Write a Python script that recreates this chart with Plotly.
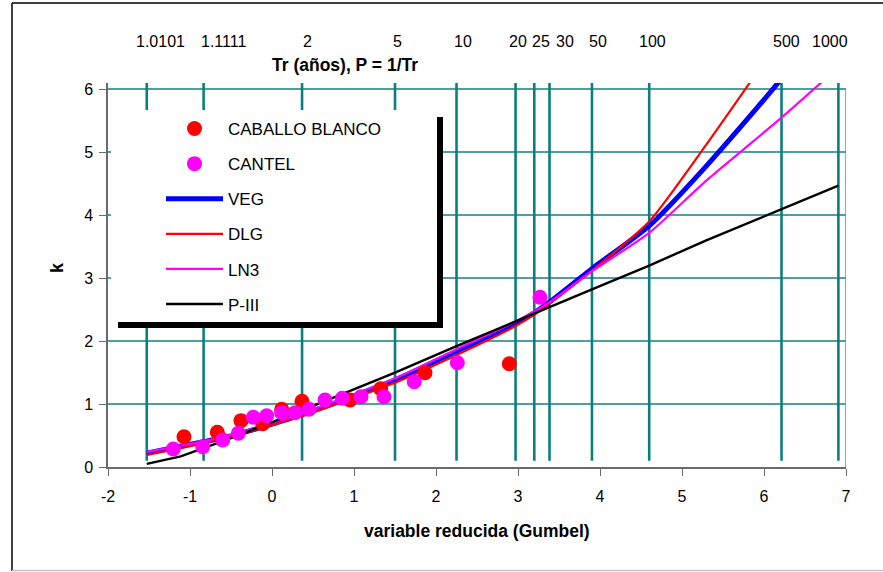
import math
import plotly.graph_objects as go

# ---------------- data ----------------
tr_grid = [1.0101, 1.1111, 2, 5, 10, 20, 25, 30, 50, 100, 500, 1000]
tr_labels = ["1.0101", "1.1111", "2", "5", "10", "20", "25", "30", "50", "100", "500", "1000"]

x_ticks = [-2, -1, 0, 1, 2, 3, 4, 5, 6, 7]
x_tick_text = ["-2", "-1", "0", "1", "2", "3", "4", "5", "6", "7"]
y_ticks = [0, 1, 2, 3, 4, 5, 6]

tr_curve = [1.0101, 1.05, 1.1111, 1.25, 2, 5, 10, 20, 25, 30, 50, 100, 200, 500, 1000]
veg = [0.22, 0.33, 0.40, 0.50, 0.83, 1.38, 1.84, 2.28, 2.45, 2.62, 3.15, 3.83, 4.78, 6.17, 7.40]
dlg = [0.19, 0.30, 0.38, 0.49, 0.81, 1.34, 1.78, 2.24, 2.42, 2.60, 3.12, 3.90, 5.12, 6.85, 8.40]
ln3 = [0.24, 0.34, 0.41, 0.52, 0.85, 1.41, 1.87, 2.31, 2.47, 2.62, 3.11, 3.72, 4.55, 5.55, 6.35]
p3 = [0.05, 0.17, 0.30, 0.47, 0.90, 1.50, 1.92, 2.32, 2.44, 2.54, 2.82, 3.20, 3.60, 4.09, 4.47]

cb_x = [-1.073, -0.667, -0.378, -0.113, 0.118, 0.366, 0.951, 1.326, 1.866, 2.894]
cb_k = [0.481, 0.551, 0.736, 0.688, 0.917, 1.044, 1.064, 1.244, 1.498, 1.641]

ca_x = [-1.204, -0.845, -0.601, -0.411, -0.228, -0.065, 0.118, 0.280, 0.451, 0.646,
        0.857, 1.085, 1.366, 1.735, 2.260, 3.268]
ca_k = [0.286, 0.322, 0.429, 0.535, 0.790, 0.815, 0.863, 0.863, 0.917, 1.064,
        1.091, 1.117, 1.117, 1.355, 1.657, 2.696]


def gumbel(tr):
    return -math.log(-math.log(1.0 - 1.0 / tr))


xg = [gumbel(t) for t in tr_grid]
xc = [gumbel(t) for t in tr_curve]

FONT = "Liberation Sans, Arial, sans-serif"
TEAL = "#0b7f7f"
GRIDH = "#4f9f9f"

W, H = 883, 572
ML, MR, MT, MB = 108, 37, 83, 105
PW, PH = W - ML - MR, H - MT - MB

# pixel offsets of the top labels relative to their lines (as placed in the original)
label_shift = [14, 20, 5, 2.5, 6, 2.5, 7, 15, 6, 3, 4.5, -8.5]


def px(x):
    return (x - ML) / PW


def py(y):
    return (H - MB - y) / PH


fig = go.Figure()

# vertical return-period lines
for x in xg:
    fig.add_trace(go.Scatter(x=[x, x], y=[0.1, 6.1], mode="lines",
                             line=dict(color=TEAL, width=2.6),
                             showlegend=False, hoverinfo="skip"))

fig.add_trace(go.Scatter(x=xc, y=veg, mode="lines", name="VEG", legendgroup="g3",
                         line=dict(color="#0000ff", width=5, shape="spline", smoothing=0.6),
                         legendrank=3))
fig.add_trace(go.Scatter(x=xc, y=dlg, mode="lines", name="DLG", legendgroup="g4",
                         line=dict(color="#ff0000", width=2.2, shape="spline", smoothing=0.6),
                         legendrank=4))
fig.add_trace(go.Scatter(x=xc, y=ln3, mode="lines", name="LN3", legendgroup="g5",
                         line=dict(color="#ff00ff", width=2.2, shape="spline", smoothing=0.6),
                         legendrank=5))
fig.add_trace(go.Scatter(x=xc, y=p3, mode="lines", name="P-III", legendgroup="g6",
                         line=dict(color="#000000", width=2.4), legendrank=6))
fig.add_trace(go.Scatter(x=cb_x, y=cb_k, mode="markers", name="CABALLO BLANCO", legendgroup="g1",
                         marker=dict(color="#ff0000", size=15), legendrank=1))
fig.add_trace(go.Scatter(x=ca_x, y=ca_k, mode="markers", name="CANTEL", legendgroup="g2",
                         marker=dict(color="#ff00ff", size=15), legendrank=2))

shapes = [
    # legend shadow and box
    dict(type="rect", xref="paper", yref="paper", x0=px(118), x1=px(443), y0=py(117), y1=py(328),
         fillcolor="black", line=dict(width=0), layer="above"),
    dict(type="rect", xref="paper", yref="paper", x0=px(111), x1=px(437), y0=py(110), y1=py(322),
         fillcolor="white", line=dict(width=0), layer="above"),
    # right border of plot area
    dict(type="line", xref="x", yref="y", x0=7, x1=7, y0=0, y1=6,
         line=dict(color=GRIDH, width=1.5)),
    # outer chart frame
    dict(type="line", xref="paper", yref="paper", x0=px(12), x1=px(12), y0=py(3), y1=py(571),
         line=dict(color="black", width=1.5)),
    dict(type="line", xref="paper", yref="paper", x0=px(12), x1=px(883), y0=py(3), y1=py(3),
         line=dict(color="black", width=1.5)),
    dict(type="line", xref="paper", yref="paper", x0=px(12), x1=px(883), y0=py(570.5), y1=py(570.5),
         line=dict(color="#c8c8c8", width=1.5)),
]

annotations = []
for x, lab, sh in zip(xg, tr_labels, label_shift):
    annotations.append(dict(x=x, xref="x", y=py(41), yref="paper", text=lab, showarrow=False,
                            xshift=sh, font=dict(family=FONT, size=16, color="black"),
                            xanchor="center", yanchor="middle"))
annotations.append(dict(x=px(345), xref="paper", y=py(65), yref="paper",
                        text="<b>Tr (años), P = 1/Tr</b>", showarrow=False,
                        font=dict(family=FONT, size=17.5, color="black"),
                        xanchor="center", yanchor="middle"))
annotations.append(dict(x=0.5, xref="paper", y=py(531), yref="paper",
                        text="<b>variable reducida (Gumbel)</b>", showarrow=False,
                        font=dict(family=FONT, size=17.5, color="black"),
                        xanchor="center", yanchor="middle"))
annotations.append(dict(x=px(57), xref="paper", y=py(268), yref="paper",
                        text="<b>k</b>", showarrow=False, textangle=-90,
                        font=dict(family=FONT, size=18, color="black"),
                        xanchor="center", yanchor="middle"))

fig.update_layout(
    width=W, height=H,
    margin=dict(l=ML, r=MR, t=MT, b=MB, pad=0),
    paper_bgcolor="white", plot_bgcolor="white",
    font=dict(family=FONT, size=16, color="black"),
    shapes=shapes, annotations=annotations,
    showlegend=True,
    legend=dict(x=px(161), y=py(111), xanchor="left", yanchor="top",
                bgcolor="rgba(0,0,0,0)", borderwidth=0,
                font=dict(family=FONT, size=17, color="black"),
                tracegroupgap=10, traceorder="grouped", itemwidth=57),
    xaxis=dict(range=[-2, 7], tickmode="array", tickvals=x_ticks, ticktext=x_tick_text,
               showgrid=False, zeroline=False, showline=True, linecolor="#6b6b6b", linewidth=1.5,
               ticks="outside", ticklen=7, tickcolor="#6b6b6b", ticklabelstandoff=7,
               tickfont=dict(family=FONT, size=16, color="black")),
    yaxis=dict(range=[0, 6.1], tickmode="array", tickvals=y_ticks,
               showgrid=True, gridcolor=GRIDH, gridwidth=1.5, zeroline=False,
               showline=True, linecolor="#6b6b6b", linewidth=1.5,
               ticks="outside", ticklen=7, tickcolor="#6b6b6b", ticklabelstandoff=3,
               tickfont=dict(family=FONT, size=16, color="black")),
)

fig.write_html("out.html")
